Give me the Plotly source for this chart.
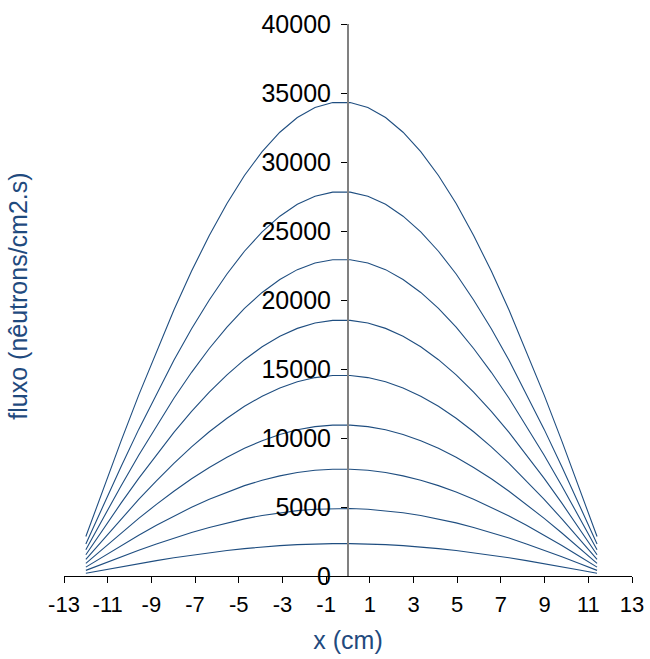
import plotly.graph_objects as go

# x positions (cm)
x_cm = [-12.00, -11.19, -10.39, -9.58, -8.77, -7.97, -7.16, -6.35, -5.54, -4.74,
        -3.93, -3.12, -2.32, -1.51, -0.70, 0.10, 0.91, 1.72, 2.52, 3.33,
        4.14, 4.95, 5.75, 6.56, 7.37, 8.17, 8.98, 9.79, 10.59, 11.40]

# flux curves (neutrons/cm2.s), top to bottom
flux_1 = [2858, 6351, 9773, 13105, 16275, 19281, 22094, 24674, 26989, 29026,
          30754, 32158, 33227, 33945, 34305, 34305, 33945, 33227, 32158, 30754,
          29026, 26989, 24674, 22094, 19281, 16275, 13105, 9773, 6351, 2858]
flux_2 = [2317, 5150, 7923, 10625, 13195, 15632, 17913, 20005, 21882, 23533,
          24934, 26073, 26939, 27521, 27814, 27814, 27521, 26939, 26073, 24934,
          23533, 21882, 20005, 17913, 15632, 13195, 10625, 7923, 5150, 2317]
flux_3 = [1909, 4243, 6529, 8755, 10874, 12882, 14761, 16485, 18032, 19393,
          20547, 21486, 22200, 22679, 22920, 22920, 22679, 22200, 21486, 20547,
          19393, 18032, 16485, 14761, 12882, 10874, 8755, 6529, 4243, 1909]
flux_4 = [1543, 3430, 5277, 7077, 8789, 10412, 11931, 13324, 14575, 15675,
          16608, 17367, 17943, 18331, 18526, 18526, 18331, 17943, 17367, 16608,
          15675, 14575, 13324, 11931, 10412, 8789, 7077, 5277, 3430, 1543]
flux_5 = [1211, 2690, 4139, 5551, 6894, 8167, 9359, 10451, 11432, 12295,
          13027, 13622, 14074, 14378, 14531, 14531, 14378, 14074, 13622, 13027,
          12295, 11432, 10451, 9359, 8167, 6894, 5551, 4139, 2690, 1211]
flux_6 = [911, 2025, 3115, 4177, 5188, 6146, 7043, 7865, 8603, 9253,
          9804, 10251, 10592, 10821, 10936, 10936, 10821, 10592, 10251, 9804,
          9253, 8603, 7865, 7043, 6146, 5188, 4177, 3115, 2025, 911]
flux_7 = [645, 1433, 2205, 2957, 3672, 4350, 4985, 5567, 6089, 6549,
          6939, 7256, 7497, 7659, 7740, 7740, 7659, 7497, 7256, 6939,
          6549, 6089, 5567, 4985, 4350, 3672, 2957, 2205, 1433, 645]
flux_8 = [408, 906, 1394, 1869, 2322, 2750, 3152, 3520, 3850, 4141,
          4387, 4587, 4740, 4842, 4894, 4894, 4842, 4740, 4587, 4387,
          4141, 3850, 3520, 3152, 2750, 2322, 1869, 1394, 906, 408]
flux_9 = [196, 435, 669, 897, 1113, 1319, 1512, 1688, 1846, 1986,
          2104, 2200, 2273, 2322, 2347, 2347, 2322, 2273, 2200, 2104,
          1986, 1846, 1688, 1512, 1319, 1113, 897, 669, 435, 196]

x_tick_vals = [-13, -11, -9, -7, -5, -3, -1, 1, 3, 5, 7, 9, 11, 13]
x_tick_text = ["-13", "-11", "-9", "-7", "-5", "-3", "-1", "1", "3", "5", "7", "9", "11", "13"]
y_tick_vals = [0, 5000, 10000, 15000, 20000, 25000, 30000, 35000, 40000]
y_tick_text = ["0", "5000", "10000", "15000", "20000", "25000", "30000", "35000", "40000"]

series = [flux_1, flux_2, flux_3, flux_4, flux_5, flux_6, flux_7, flux_8, flux_9]

LINE_COLOR = "#1f4e80"
TITLE_COLOR = "#1f4a7e"
FONT = "Liberation Sans, Arial, sans-serif"

fig = go.Figure()
for ys in series:
    fig.add_trace(go.Scatter(x=x_cm, y=ys, mode="lines",
                             line=dict(color=LINE_COLOR, width=1.1),
                             showlegend=False, hoverinfo="skip"))

fig.update_layout(
    width=650, height=659,
    margin=dict(l=64, r=18, t=24, b=83, autoexpand=False),
    paper_bgcolor="white", plot_bgcolor="white",
    font=dict(family=FONT, color="black"),
    xaxis=dict(
        range=[-13, 13], tickvals=x_tick_vals, ticktext=x_tick_text,
        automargin=False,
        showgrid=False, zeroline=False, showline=True, linecolor="black", linewidth=1,
        ticks="outside", ticklen=6, tickcolor="black", tickwidth=1,
        ticklabelstandoff=3,
        tickfont=dict(size=22, family=FONT, color="black"),
        title=dict(text="x (cm)", font=dict(size=25, family=FONT, color=TITLE_COLOR), standoff=15),
    ),
    yaxis=dict(
        range=[0, 40000], tickvals=y_tick_vals, ticktext=y_tick_text,
        anchor="free", position=0.5, automargin=False,
        showgrid=False, zeroline=False, showline=True, linecolor="#808080", linewidth=2,
        ticks="outside", ticklen=6, tickcolor="black", tickwidth=1,
        ticklabelstandoff=5,
        tickfont=dict(size=25, family=FONT, color="black"),
    ),
    annotations=[dict(
        text="fluxo (nêutrons/cm2.s)", textangle=-90,
        xref="paper", yref="paper", x=-0.08, y=0.507,
        xanchor="center", yanchor="middle", showarrow=False,
        font=dict(size=25, family=FONT, color=TITLE_COLOR),
    )],
)

fig.write_html("out.html")
